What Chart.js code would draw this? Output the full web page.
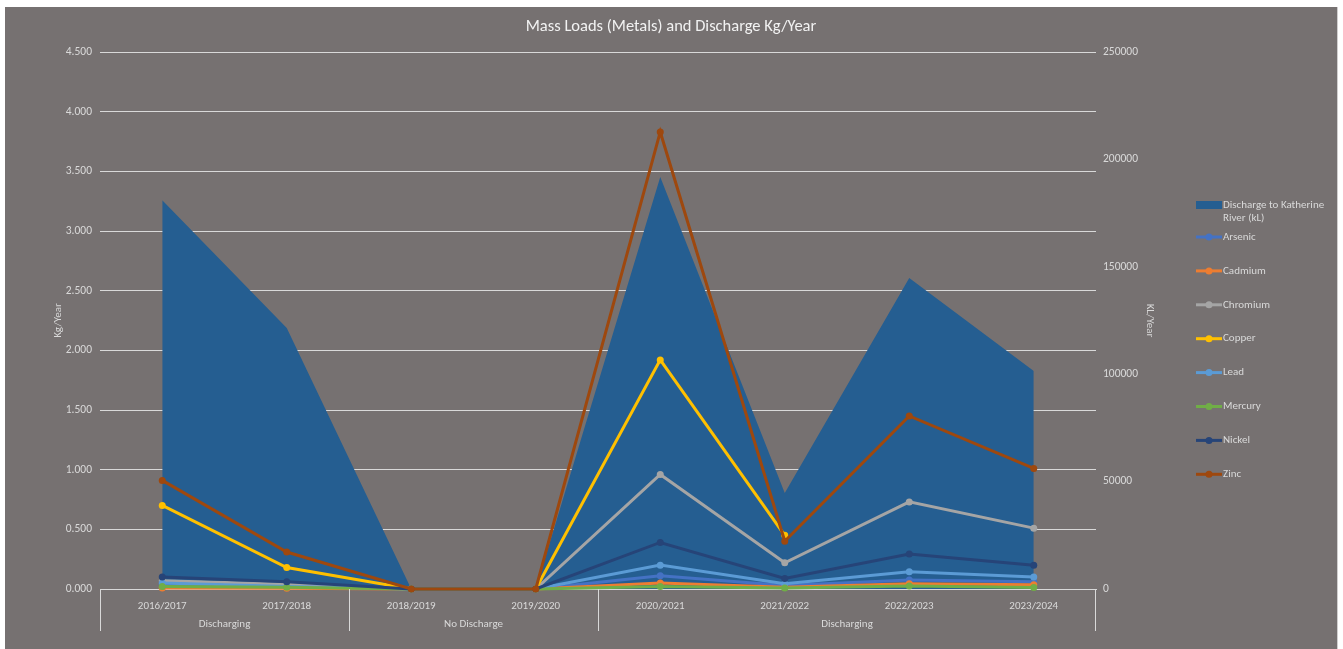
<!DOCTYPE html>
<html>
<head>
<meta charset="utf-8">
<title>Mass Loads (Metals) and Discharge</title>
<script src="https://cdn.jsdelivr.net/npm/chart.js@4.4.1/dist/chart.umd.min.js"></script>
<style>
  html, body { margin: 0; padding: 0; background: #fff; }
  #wrap {
    position: absolute; left: 5px; top: 7px;
    width: 1332px; height: 642px;
    background: #767171;
    border-right: 1px solid #d0cece;
  }
  canvas { display: block; }
</style>
</head>
<body>
<div id="wrap"><canvas id="massLoads"></canvas></div>
<script>
// Financial years and the discharge status grouping under them
const years = ['2016/2017', '2017/2018', '2018/2019', '2019/2020', '2020/2021', '2021/2022', '2022/2023', '2023/2024'];
const groupNames = ['Discharging', 'No Discharge', 'Discharging'];
const groupSizes = [2, 2, 4];

// Discharge volume (kL/year, right axis)
const discharge = [181000, 121500, 0, 0, 191800, 44700, 144800, 101500];

// Metal mass loads (kg/year, left axis)
const arsenic  = [0.040, 0.020, 0, 0, 0.110, 0.030, 0.075, 0.060];
const cadmium  = [0.008, 0.006, 0, 0, 0.050, 0.015, 0.045, 0.035];
const chromium = [0.070, 0.040, 0, 0, 0.960, 0.220, 0.730, 0.510];
const copper   = [0.700, 0.180, 0, 0, 1.920, 0.450, null, null];
const lead     = [0.050, 0.020, 0, 0, 0.200, 0.045, 0.145, 0.100];
const mercury  = [0.020, 0.015, 0, 0, 0.020, 0.008, 0.025, 0.012];
const nickel   = [0.100, 0.060, 0, 0, 0.390, 0.088, 0.293, 0.200];
const zinc     = [0.910, 0.310, 0, 0, 3.830, 0.400, 1.450, 1.010];

const chartTitle = 'Mass Loads (Metals) and Discharge Kg/Year';

const FONT = 'Carlito, Calibri, Lato, sans-serif';
const TEXT = '#d9d9d9';

const metals = [
  ['Arsenic', arsenic, '#4472C4'],
  ['Cadmium', cadmium, '#ED7D31'],
  ['Chromium', chromium, '#A5A5A5'],
  ['Copper', copper, '#FFC000'],
  ['Lead', lead, '#5B9BD5'],
  ['Mercury', mercury, '#70AD47'],
  ['Nickel', nickel, '#264478'],
  ['Zinc', zinc, '#9E480E']
];

const datasets = [{
  label: ['Discharge to Katherine', 'River (kL)'],
  data: discharge,
  yAxisID: 'y2',
  fill: 'origin',
  backgroundColor: '#255E91',
  borderColor: '#255E91',
  borderWidth: 0,
  pointRadius: 0,
  order: 20,
  clip: false
}];
metals.forEach(([name, values, color], i) => {
  datasets.push({
    label: name,
    data: values,
    yAxisID: 'y',
    borderColor: color,
    backgroundColor: color,
    pointBackgroundColor: color,
    pointBorderColor: color,
    borderWidth: 3,
    pointRadius: 3.5,
    pointBorderWidth: 0,
    fill: false,
    spanGaps: false,
    order: metals.length - i,
    clip: false
  });
});

// title centred over the whole canvas, not just the plot
const wideTitle = {
  id: 'wideTitle',
  afterDraw(chart) {
    const { ctx, width } = chart;
    ctx.save();
    ctx.fillStyle = '#f2f2f2';
    ctx.font = '16.5px ' + FONT;
    ctx.textAlign = 'center';
    ctx.textBaseline = 'middle';
    ctx.fillText(chartTitle, width / 2, 20);
    ctx.restore();
  }
};

// second row of the category axis: status groups with separators
const groupAxis = {
  id: 'groupAxis',
  afterDraw(chart) {
    const { ctx, chartArea } = chart;
    const x = chart.scales.x;
    const half = (x.getPixelForValue(1) - x.getPixelForValue(0)) / 2;
    const top = chartArea.bottom;
    const bottom = chartArea.bottom + 42;
    ctx.save();
    ctx.strokeStyle = '#d9d9d9';
    ctx.lineWidth = 1;
    ctx.fillStyle = TEXT;
    ctx.font = '11px ' + FONT;
    ctx.textAlign = 'center';
    ctx.textBaseline = 'middle';
    let start = 0;
    let right = 0;
    groupSizes.forEach((n, g) => {
      const left = x.getPixelForValue(start) - half;
      right = x.getPixelForValue(start + n - 1) + half;
      ctx.beginPath();
      ctx.moveTo(Math.round(left) + 0.5, top);
      ctx.lineTo(Math.round(left) + 0.5, bottom);
      ctx.stroke();
      ctx.fillText(groupNames[g], (left + right) / 2, chartArea.bottom + 35);
      start += n;
    });
    ctx.beginPath();
    ctx.moveTo(Math.round(right) - 0.5, top);
    ctx.lineTo(Math.round(right) - 0.5, bottom);
    ctx.stroke();
    ctx.restore();
  }
};

// legend column to the right of the secondary axis
const sideLegend = {
  id: 'sideLegend',
  afterDraw(chart) {
    const { ctx } = chart;
    const x0 = 1191, x1 = 1217, tx = 1218;
    ctx.save();
    ctx.font = '11px ' + FONT;
    ctx.fillStyle = TEXT;
    ctx.textBaseline = 'middle';
    ctx.textAlign = 'left';
    chart.data.datasets.forEach((ds, i) => {
      if (i === 0) {
        ctx.fillStyle = ds.backgroundColor;
        ctx.fillRect(x0, 194, x1 - x0, 8);
        ctx.fillStyle = TEXT;
        ctx.fillText(ds.label[0], tx, 198);
        ctx.fillText(ds.label[1], tx, 211);
        return;
      }
      const y = 230 + (i - 1) * 33.9;
      ctx.strokeStyle = ds.borderColor;
      ctx.lineWidth = 3;
      ctx.beginPath();
      ctx.moveTo(x0, y);
      ctx.lineTo(x1, y);
      ctx.stroke();
      ctx.fillStyle = ds.borderColor;
      ctx.beginPath();
      ctx.arc((x0 + x1) / 2, y, 3.5, 0, Math.PI * 2);
      ctx.fill();
      ctx.fillStyle = TEXT;
      ctx.fillText(ds.label, tx, y);
    });
    ctx.restore();
  }
};

new Chart(document.getElementById('massLoads'), {
  type: 'line',
  data: { labels: years, datasets: datasets },
  plugins: [wideTitle, groupAxis, sideLegend],
  options: {
    responsive: true,
    maintainAspectRatio: false,
    animation: false,
    elements: { line: { tension: 0 } },
    layout: { padding: { left: 47, right: 181, top: 45, bottom: 0 } },
    plugins: {
      legend: { display: false },
      tooltip: { enabled: false },
      title: { display: false }
    },
    scales: {
      x: {
        offset: true,
        grid: { display: false },
        border: { display: true, color: '#d9d9d9', width: 1 },
        ticks: { color: TEXT, font: { family: FONT, size: 11 }, padding: 3, maxRotation: 0 },
        afterFit(scale) { scale.height = 60; }
      },
      y: {
        position: 'left',
        min: 0,
        max: 4.5,
        grid: { color: '#d9d9d9', lineWidth: 1, drawTicks: false },
        border: { display: false },
        ticks: {
          stepSize: 0.5,
          color: TEXT,
          font: { family: FONT, size: 11.5 },
          padding: 8,
          callback: v => Number(v).toFixed(3)
        },
        title: {
          display: true,
          text: 'Kg/Year',
          color: TEXT,
          font: { family: FONT, size: 11 },
          padding: 0
        },
        afterFit(scale) { scale.width = 48; }
      },
      y2: {
        position: 'right',
        min: 0,
        max: 250000,
        grid: { display: false, drawTicks: false },
        border: { display: false },
        ticks: {
          stepSize: 50000,
          color: TEXT,
          font: { family: FONT, size: 11.5 },
          padding: 7,
          callback: v => String(v)
        },
        title: {
          display: true,
          text: 'KL/Year',
          color: TEXT,
          font: { family: FONT, size: 11 },
          padding: 0
        },
        afterFit(scale) { scale.width = 60; }
      }
    }
  }
});
</script>
</body>
</html>
